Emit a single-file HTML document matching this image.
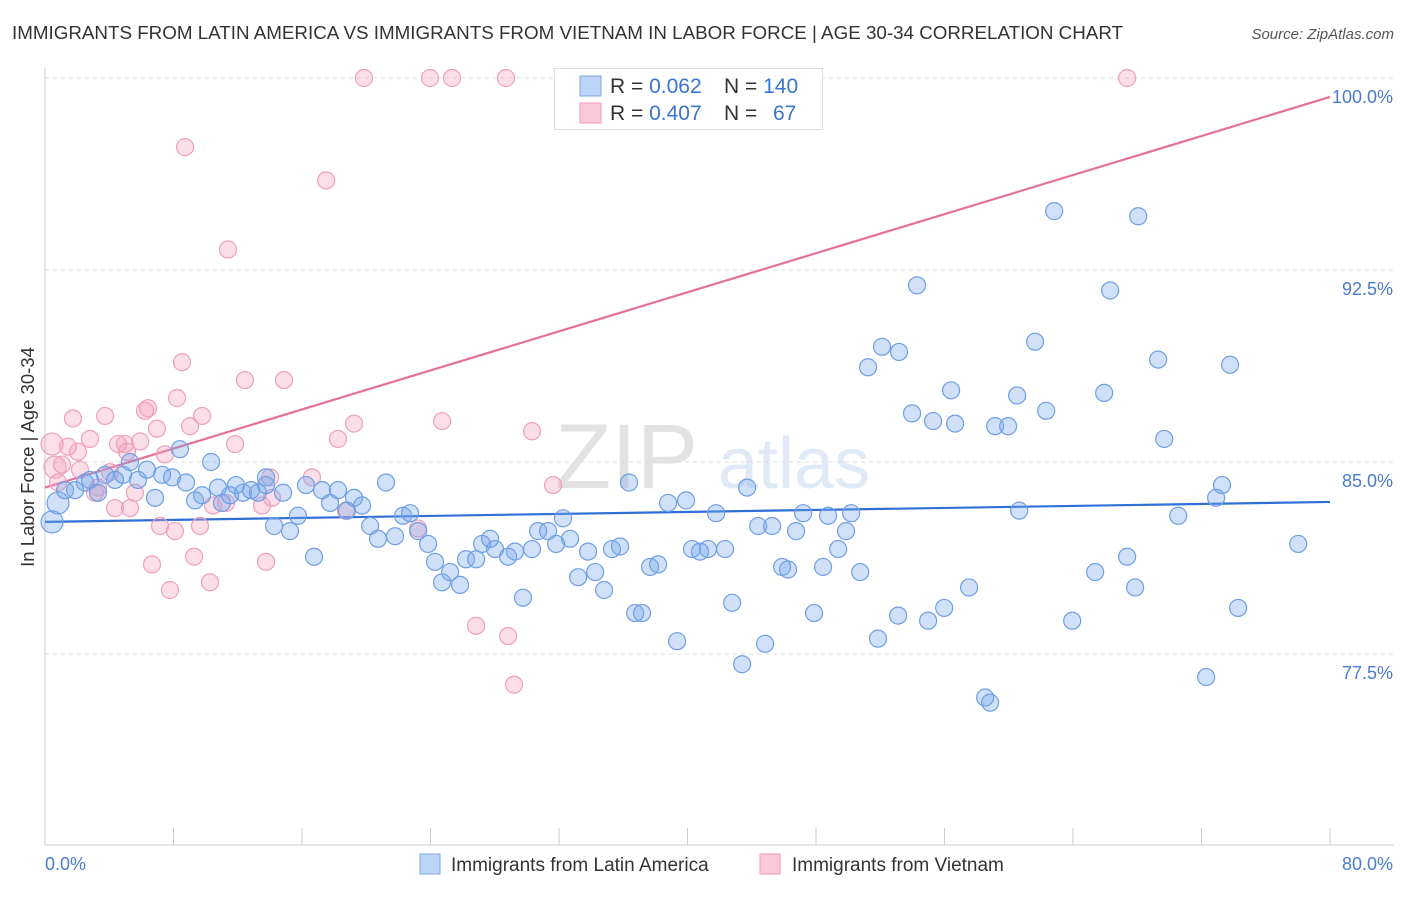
<!DOCTYPE html>
<html><head><meta charset="utf-8">
<style>
html,body{margin:0;padding:0;background:#fff;}
body{width:1406px;height:892px;overflow:hidden;font-family:"Liberation Sans",sans-serif;}
svg text{font-family:"Liberation Sans",sans-serif;}
</style></head>
<body>
<svg id="chart" width="1406" height="892" viewBox="0 0 1406 892" xmlns="http://www.w3.org/2000/svg">
<text x="12" y="39" font-size="18.8" fill="#333">IMMIGRANTS FROM LATIN AMERICA VS IMMIGRANTS FROM VIETNAM IN LABOR FORCE | AGE 30-34 CORRELATION CHART</text>
<text x="1394" y="39" font-size="15" fill="#555" font-style="italic" text-anchor="end">Source: ZipAtlas.com</text>
<g opacity="0.18">
<text x="555" y="488" font-size="92" font-family="Liberation Serif" fill="#666">ZIP</text>
<text x="718" y="488" font-size="72" fill="#5b8fd6">atlas</text>
</g>
<g id="grid"></g>
<g id="axes"></g>
<g id="trends"></g>
<g id="points"></g>
<text x="34" y="457" font-size="18.5" fill="#333" text-anchor="middle" transform="rotate(-90 34 457)">In Labor Force | Age 30-34</text>
<g>
<rect x="554.5" y="68.5" width="268" height="61" fill="#fff" stroke="#ddd"/>
<rect x="580" y="76" width="21" height="20" fill="#bcd4f6" stroke="#7aa7e6"/>
<text x="610" y="93" font-size="21" fill="#333">R = <tspan fill="#3a74d0">0.062</tspan></text>
<text x="724" y="93" font-size="21" fill="#333">N = <tspan fill="#3a74d0">140</tspan></text>
<rect x="580" y="103" width="21" height="20" fill="#fbc8d8" stroke="#f09ab6"/>
<text x="610" y="120" font-size="21" fill="#333">R = <tspan fill="#3a74d0">0.407</tspan></text>
<text x="724" y="120" font-size="21" fill="#333">N = <tspan x="773" fill="#3a74d0">67</tspan></text>
</g>
<g>
<rect x="420" y="854" width="20" height="20" fill="#bcd4f6" stroke="#7aa7e6"/>
<text x="451" y="871" font-size="19" fill="#333">Immigrants from Latin America</text>
<rect x="760" y="854" width="20" height="20" fill="#fbc8d8" stroke="#f09ab6"/>
<text x="792" y="871" font-size="19" fill="#333">Immigrants from Vietnam</text>
</g>
</svg>
<script>
const yTicks = [77.5, 85.0, 92.5, 100.0];
const yTickLabels = ["77.5%", "85.0%", "92.5%", "100.0%"];
const xTicks = [0,8,16,24,32,40,48,56,64,72,80];
const xEndLabels = ["0.0%", "80.0%"];
const blueTrend = [82.66, 83.44];
const pinkTrend = [84.0, 99.26];
const blueX = [0.44,0.81,1.25,1.87,2.49,2.80,3.30,3.74,4.36,4.86,5.29,5.79,6.35,6.85,7.29,7.91,8.40,8.78,9.34,9.78,10.34,10.77,11.02,11.52,11.89,12.33,12.83,13.26,13.76,13.76,14.26,14.82,15.25,15.75,16.25,16.75,17.25,17.75,18.24,18.80,19.24,19.74,20.24,20.73,21.23,21.79,22.29,22.73,23.23,23.85,24.28,24.72,25.22,25.84,26.21,26.84,27.21,27.71,28.02,28.83,29.26,29.76,30.32,30.70,31.32,31.82,32.25,32.69,33.19,33.81,34.25,34.81,35.30,35.80,36.36,36.74,37.17,37.67,38.17,38.79,39.35,39.91,40.28,40.78,41.28,41.78,42.34,42.78,43.40,43.71,44.40,44.83,45.27,45.89,46.26,46.76,47.20,47.88,48.44,48.75,49.38,49.87,50.19,50.75,51.24,51.86,52.11,53.11,53.17,53.98,54.29,54.98,55.29,55.98,56.41,56.66,57.53,58.53,58.84,59.15,59.96,60.52,60.65,61.64,62.33,62.83,63.95,65.38,65.94,66.31,67.37,67.87,68.06,69.30,69.68,70.55,72.29,72.91,73.28,73.78,74.28,78.02];
const blueY = [82.66,83.4,83.9,83.9,84.2,84.3,83.8,84.5,84.3,84.5,85.0,84.3,84.7,83.6,84.5,84.4,85.5,84.2,83.5,83.7,85.0,84.0,83.4,83.7,84.1,83.8,83.9,83.8,84.4,84.1,82.5,83.8,82.3,82.9,84.1,81.3,83.9,83.4,83.9,83.1,83.6,83.3,82.5,82.0,84.2,82.1,82.9,83.0,82.3,81.8,81.1,80.3,80.7,80.2,81.2,81.2,81.8,82.0,81.6,81.3,81.5,79.7,81.6,82.3,82.3,81.8,82.8,82.0,80.5,81.5,80.7,80.0,81.6,81.7,84.2,79.1,79.1,80.9,81.0,83.4,78.0,83.5,81.6,81.5,81.6,83.0,81.6,79.5,77.1,84.0,82.5,77.9,82.5,80.9,80.8,82.3,83.0,79.1,80.9,82.9,81.6,82.3,83.0,80.7,88.7,78.1,89.5,79.0,89.3,86.9,91.9,78.8,86.6,79.3,87.8,86.5,80.1,75.8,75.6,86.4,86.4,87.6,83.1,89.7,87.0,94.8,78.8,80.7,87.7,91.7,81.3,80.1,94.6,89.0,85.9,82.9,76.6,83.6,84.1,88.8,79.3,81.8];
const pinkX = [0.44,0.62,0.81,1.06,1.43,1.74,2.05,2.18,2.80,3.11,3.30,3.74,4.05,4.36,4.55,4.98,5.11,5.29,5.60,5.92,6.23,6.41,6.66,6.97,7.16,7.47,7.78,8.09,8.22,8.53,8.72,9.03,9.28,9.65,9.78,10.27,10.46,11.27,11.39,11.83,12.45,13.51,13.76,14.01,14.13,14.88,16.62,17.50,18.24,18.74,19.24,19.86,23.23,23.97,24.72,25.34,26.84,28.70,28.83,29.20,30.32,31.63,43.27,67.37];
const pinkY = [85.7,84.8,84.2,84.9,85.6,86.7,85.4,84.7,85.9,83.8,84.0,86.8,84.6,83.2,85.7,85.7,85.4,83.2,83.8,85.8,87.0,87.1,81.0,86.3,82.5,85.3,80.0,82.3,87.5,88.9,97.3,86.4,81.3,82.5,86.8,80.3,83.3,83.4,93.3,85.7,88.2,83.3,81.1,84.4,83.6,88.2,84.4,96.0,85.9,83.1,86.5,100,82.4,100,86.6,100,78.6,100,78.2,76.3,86.2,84.1,100,100];

const NS = "http://www.w3.org/2000/svg";
const X0 = 45, X1 = 1330, Y_TOP = 78, PX_PER = 25.6;
function sx(v){ return X0 + (X1 - X0) * v / 80; }
function sy(v){ return Y_TOP + (100 - v) * PX_PER; }
function mk(tag, attrs, parent){
  const e = document.createElementNS(NS, tag);
  for (const k in attrs) e.setAttribute(k, attrs[k]);
  parent.appendChild(e);
  return e;
}
const grid = document.getElementById('grid');
const axes = document.getElementById('axes');
yTicks.forEach((t, i) => {
  const l = mk('line', {x1: X0, x2: 1394, y1: sy(t), y2: sy(t), stroke: '#ddd', 'stroke-dasharray': '4 4'}, grid);
  
  
  const tx = mk('text', {x: 1393, y: sy(t) + 25, 'font-size': 18, fill: '#4a7bd0', 'text-anchor': 'end'}, axes);
  tx.textContent = yTickLabels[i];
  
  
});
const ya = mk('line', {x1: X0, x2: X0, y1: 68, y2: 845, stroke: '#ccc'}, axes);


const xa = mk('line', {x1: X0, x2: 1394, y1: 845, y2: 845, stroke: '#ccc'}, axes);


xTicks.forEach(t => {
  const l = mk('line', {x1: sx(t), x2: sx(t), y1: 828, y2: 845, stroke: '#ccc'}, axes);
  
  
});
const xl0 = mk('text', {x: 45, y: 870, 'font-size': 18, fill: '#4a7bd0'}, axes);
xl0.textContent = xEndLabels[0];


const xl1 = mk('text', {x: 1393, y: 870, 'font-size': 18, fill: '#4a7bd0', 'text-anchor': 'end'}, axes);
xl1.textContent = xEndLabels[1];



const pts = document.getElementById('points');
pinkX.forEach((x, i) => {
  const c = mk('circle', {cx: sx(x), cy: sy(pinkY[i]), r: i < 2 ? 11 : 8.5, fill: 'rgba(244,160,190,0.35)', stroke: '#eea0bb', 'stroke-width': 1.2}, pts);
  
  
});
blueX.forEach((x, i) => {
  const c = mk('circle', {cx: sx(x), cy: sy(blueY[i]), r: i < 2 ? 11 : 8.5, fill: 'rgba(120,165,235,0.35)', stroke: '#6f9fe2', 'stroke-width': 1.2}, pts);
  
  
});
const tr = document.getElementById('trends');
const pl = mk('line', {x1: sx(0), y1: sy(pinkTrend[0]), x2: sx(80), y2: sy(pinkTrend[1]), stroke: '#e5709a', 'stroke-width': 2.2}, tr);


const bl = mk('line', {x1: sx(0), y1: sy(blueTrend[0]), x2: sx(80), y2: sy(blueTrend[1]), stroke: '#2f6fd6', 'stroke-width': 2.2}, tr);


</script>
</body></html>
